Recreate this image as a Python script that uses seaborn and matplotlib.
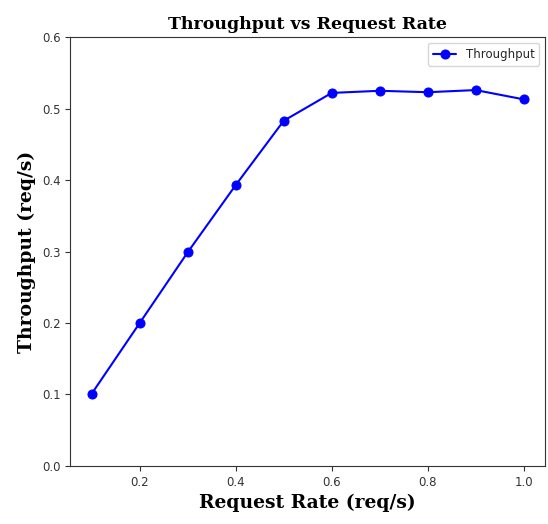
import matplotlib
matplotlib.use("Agg")
import matplotlib.pyplot as plt
import seaborn as sns
import pandas as pd

# values
request_rate = [0.1, 0.2, 0.3, 0.4, 0.5, 0.6, 0.7, 0.8, 0.9, 1.0]
throughput = [0.101, 0.200, 0.299, 0.393, 0.483, 0.522, 0.525, 0.523, 0.526, 0.513]

df = pd.DataFrame({"Request Rate": request_rate, "Throughput": throughput})

sns.set_style("ticks")
plt.rcParams['font.family'] = ['DejaVu Sans']

fig = plt.figure(figsize=(5.48, 5.24), dpi=100)
ax = fig.add_axes([0.128, 0.111, 0.867, 0.818])

sns.lineplot(data=df, x="Request Rate", y="Throughput", marker="o", color="blue",
             markersize=6.5, markeredgecolor="blue", linewidth=1.5, label="Throughput", ax=ax)

ax.set_ylim(0, 0.6)
ax.set_xticks([0.2, 0.4, 0.6, 0.8, 1.0])
ax.set_yticks([0.0, 0.1, 0.2, 0.3, 0.4, 0.5, 0.6])
ax.tick_params(labelsize=8.5, colors="#333333")
for s in ax.spines.values():
    s.set_color("#333333")

ax.set_title("Throughput vs Request Rate", fontsize=12.5, fontweight="bold",
             family="DejaVu Serif", color="black")
ax.set_xlabel("Request Rate (req/s)", fontsize=13.5, fontweight="bold",
              family="DejaVu Serif", color="black")
ax.set_ylabel("Throughput (req/s)", fontsize=13.5, fontweight="bold",
              family="DejaVu Serif", color="black")
ax.legend(loc="upper right", fontsize=8.5)

plt.savefig("out.png", dpi=100)
